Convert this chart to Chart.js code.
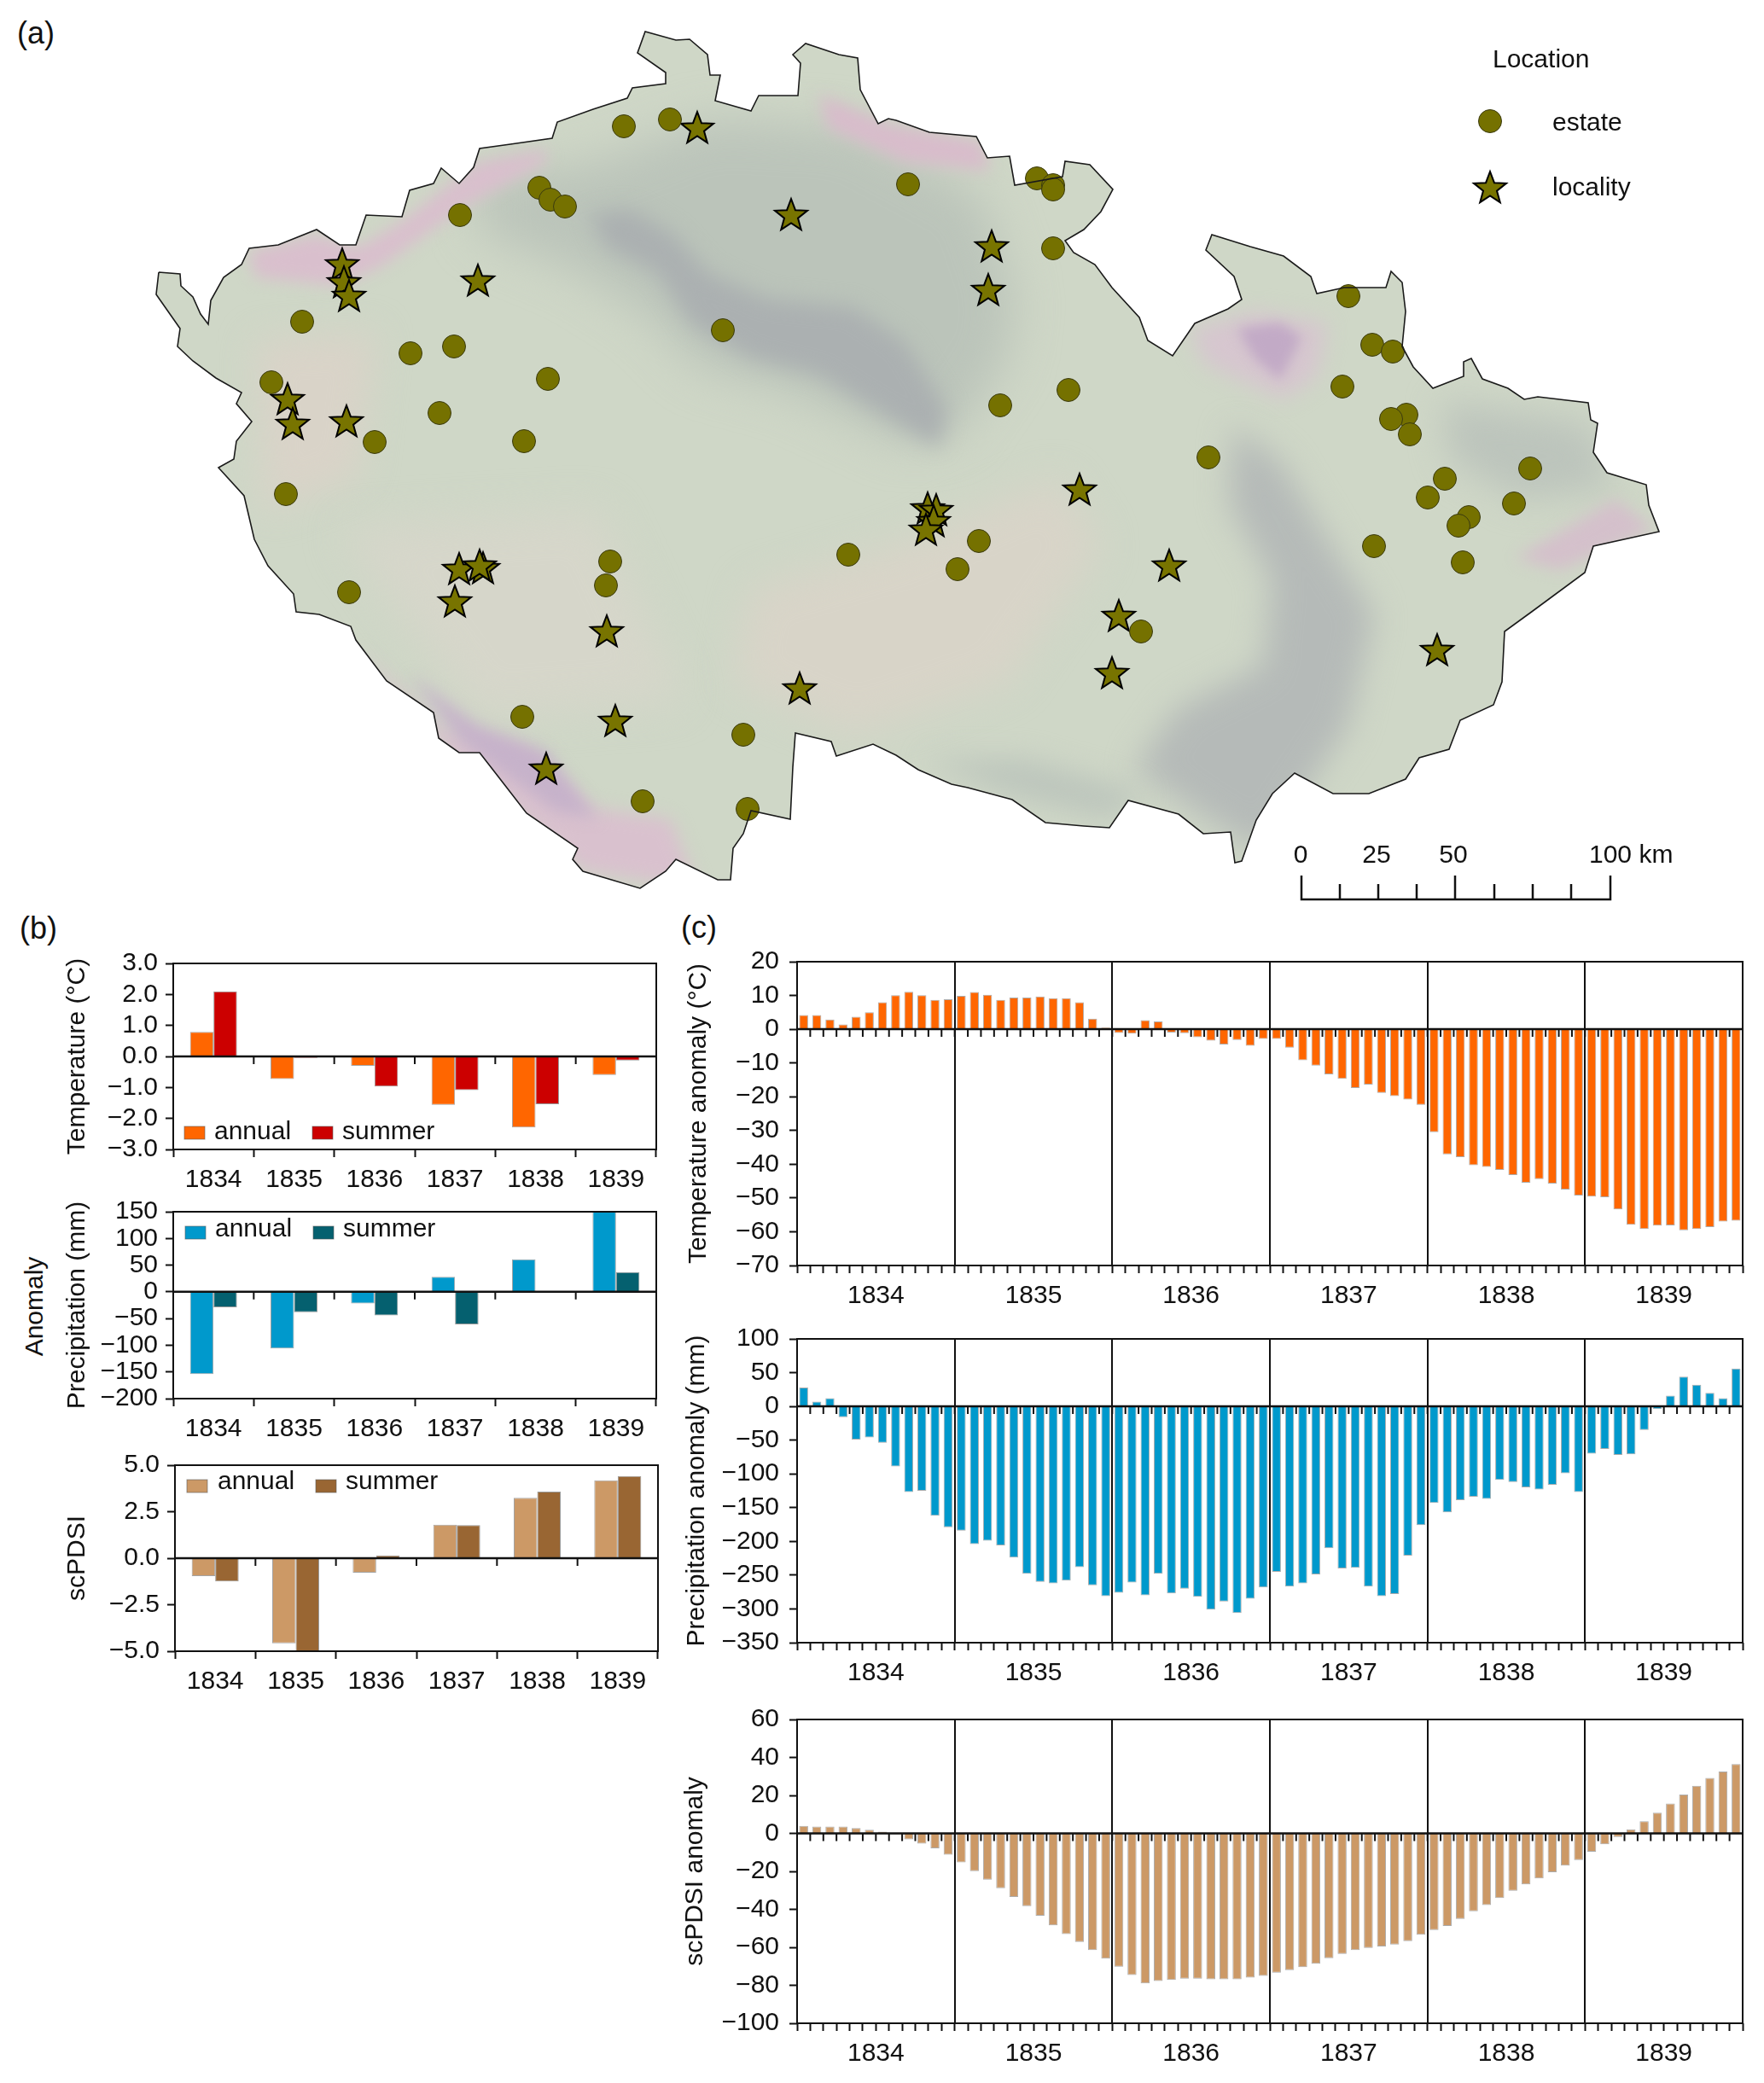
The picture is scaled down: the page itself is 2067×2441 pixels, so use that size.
<!DOCTYPE html>
<html><head><meta charset="utf-8">
<style>
html,body{margin:0;padding:0;background:#fff;width:2067px;height:2441px;overflow:hidden}
canvas{position:absolute;display:block}
.t{position:absolute;font-family:"Liberation Sans",Arial,sans-serif;color:#111;white-space:nowrap;line-height:1}
</style>
<script src="https://cdn.jsdelivr.net/npm/chart.js@4"></script>
</head><body>
<div class="t" style="left:20px;top:21px;font-size:36px">(a)</div>
<div class="t" style="left:23px;top:1070px;font-size:36px">(b)</div>
<div class="t" style="left:798px;top:1069px;font-size:36px">(c)</div>
<div class="t" style="left:40px;top:1531px;font-size:30px;transform:translate(-50%,-50%) rotate(-90deg)">Anomaly</div>
<script>
const years = ['1834','1835','1836','1837','1838','1839'];
const seriesLabels = ['annual','summer'];

const tempAnnual = [0.79,-0.73,-0.30,-1.56,-2.29,-0.60];
const tempSummer = [2.10,-0.05,-0.97,-1.09,-1.54,-0.13];
const precAnnual = [-154,-106,-22,28,61,150];
const precSummer = [-29,-38,-44,-61,0,37];
const pdsiAnnual = [-0.96,-4.57,-0.78,1.80,3.25,4.19];
const pdsiSummer = [-1.25,-5.00,0.15,1.78,3.58,4.42];

const tempMonthly = [
 4.2,4.2,2.9,1.4,3.7,5.0,8.0,10.1,11.1,10.1,8.7,8.9,
 9.9,11.0,10.2,8.7,9.4,9.4,9.7,9.2,9.2,8.0,3.1,0.5,
 -1.1,-1.3,2.7,2.3,-1.0,-1.2,-2.4,-3.4,-4.5,-3.2,-4.9,-2.9,
 -2.9,-5.5,-9.2,-10.8,-13.4,-14.7,-17.4,-16.4,-18.9,-19.8,-20.8,-22.4,
 -30.5,-37.1,-37.9,-40.3,-40.8,-41.7,-43.2,-45.5,-44.4,-45.7,-47.5,-49.3,
 -49.6,-49.8,-53.4,-57.9,-59.2,-58.2,-58.1,-59.6,-59.2,-58.6,-57.0,-56.7];
const precMonthly = [
 28,7,12,-16,-49,-46,-54,-89,-127,-125,-162,-179,
 -184,-204,-199,-206,-224,-248,-260,-262,-258,-238,-265,-281,
 -276,-261,-280,-248,-277,-270,-282,-301,-289,-306,-285,-268,
 -245,-267,-262,-249,-210,-240,-239,-267,-281,-278,-221,-176,
 -143,-157,-139,-134,-137,-109,-112,-120,-123,-116,-99,-127,
 -70,-63,-72,-71,-35,-4,16,44,32,20,12,56];
const pdsiMonthly = [
 3.9,3.6,3.6,3.6,2.8,1.9,0.9,-0.5,-3.1,-5.4,-7.9,-11.2,
 -15.3,-19.9,-24.4,-28.9,-33.5,-38.3,-43.4,-48.4,-53.0,-57.2,-61.5,-65.9,
 -70.2,-74.6,-79.0,-77.7,-77.2,-76.5,-76.5,-76.8,-76.8,-76.8,-76.0,-75.0,
 -73.4,-72.0,-70.5,-68.6,-65.7,-63.5,-61.5,-60.3,-59.6,-58.5,-56.7,-53.4,
 -50.9,-48.8,-45.0,-41.0,-37.7,-34.0,-30.2,-26.9,-23.7,-20.5,-17.0,-14.1,
 -9.7,-5.7,-1.9,2.1,6.4,10.9,15.7,20.5,25.1,29.2,32.6,36.5];
const monthCategories = years.flatMap(y => ['01','02','03','04','05','06','07','08','09','10','11','12'].map(m => y + '-' + m));

// map, in the map's own grid units
const borderPath = [[186,319],[211,321],[212,335],[226,348],[235,368],[244,380],[247,352],[262,325],[283,310],[292,291],[326,287],[371,269],[398,287],[417,287],[429,252],[471,254],[480,223],[508,215],[517,197],[538,215],[555,196],[562,174],[598,169],[647,162],[653,143],[695,128],[735,115],[741,103],[780,98],[780,85],[747,62],[756,37],[792,47],[808,46],[829,64],[832,88],[844,88],[838,118],[880,130],[889,112],[935,112],[938,74],[929,64],[944,51],[983,64],[1005,68],[1008,105],[1029,145],[1041,139],[1050,141],[1089,155],[1144,160],[1157,185],[1183,183],[1189,217],[1245,207],[1248,189],[1277,193],[1304,222],[1290,248],[1270,269],[1248,282],[1258,296],[1283,310],[1303,337],[1335,372],[1345,399],[1374,417],[1400,379],[1439,362],[1455,351],[1446,324],[1413,293],[1420,275],[1465,289],[1504,300],[1536,324],[1543,344],[1575,337],[1624,337],[1630,318],[1643,331],[1647,365],[1643,406],[1656,430],[1679,455],[1715,441],[1715,424],[1724,420],[1737,444],[1767,455],[1786,468],[1802,465],[1861,472],[1864,492],[1872,496],[1867,530],[1883,554],[1929,568],[1932,592],[1944,623],[1867,640],[1857,671],[1796,716],[1763,740],[1760,799],[1750,826],[1711,844],[1698,878],[1663,888],[1647,913],[1604,930],[1562,930],[1517,906],[1491,930],[1472,961],[1455,1009],[1447,1011],[1442,975],[1410,977],[1381,954],[1322,938],[1300,970],[1270,968],[1225,964],[1186,937],[1134,923],[1115,919],[1076,902],[1050,885],[1023,872],[980,886],[974,869],[932,859],[929,899],[926,960],[880,950],[871,977],[859,994],[856,1031],[841,1031],[792,1007],[780,1021],[750,1041],[683,1021],[671,1007],[677,994],[617,953],[583,909],[562,882],[538,882],[514,865],[508,835],[453,798],[417,750],[411,734],[374,720],[347,717],[344,696],[314,663],[298,632],[286,581],[256,548],[274,538],[277,517],[295,494],[277,473],[283,460],[253,443],[226,423],[208,406],[211,385],[183,345],[186,319]];
const reliefZones = [
 {c:'#d8d4c8',b:22,p:[[880,690],[1050,640],[1240,560],[1290,640],[1180,800],[1000,860],[860,800]]},
 {c:'#d9d3c8',b:20,p:[[300,400],[440,390],[420,560],[310,600]]},
 {c:'#d6d6ca',b:24,p:[[400,620],[700,600],[800,820],[560,840]]},
 {c:'#bbc4ba',b:26,p:[[560,210],[700,190],[830,140],[1000,150],[1150,230],[1190,350],[1180,420],[1120,510],[1060,520],[930,460],[820,430],[760,370],[680,320],[560,270]]},
 {c:'#abb0b1',b:12,p:[[690,250],[740,245],[790,275],[830,320],[900,350],[1000,360],[1060,400],[1110,480],[1100,525],[1050,495],[960,440],[880,420],[810,380],[770,320],[710,290]]},
 {c:'#b5bab8',b:18,p:[[1445,500],[1500,540],[1560,640],[1610,720],[1580,850],[1480,1000],[1400,950],[1330,900],[1380,830],[1480,780],[1490,680],[1440,590]]},
 {c:'#bcc4bc',b:20,p:[[1690,470],[1861,496],[1893,572],[1783,585],[1700,540]]},
 {c:'#bcc5bc',b:16,p:[[1080,890],[1200,890],[1342,930],[1300,960],[1180,930]]},
 {c:'#d9bfcd',b:9,p:[[290,295],[370,275],[420,290],[470,260],[560,190],[640,175],[640,190],[540,245],[450,310],[400,335],[300,325]]},
 {c:'#d9c1ce',b:10,p:[[417,757],[514,852],[610,879],[695,947],[786,960],[817,1041],[683,1021],[514,872],[453,805]]},
 {c:'#c6b2ca',b:9,p:[[480,790],[560,850],[640,880],[700,960],[650,950],[540,870]]},
 {c:'#d8bccb',b:9,p:[[960,110],[1040,145],[1150,165],[1160,200],[1060,190],[970,150]]},
 {c:'#d6c6cf',b:12,p:[[1394,386],[1471,365],[1556,379],[1543,441],[1504,468],[1413,427]]},
 {c:'#c2aac6',b:7,p:[[1450,385],[1500,378],[1525,395],[1500,445],[1470,420]]},
 {c:'#d4c0cb',b:9,p:[[1776,654],[1893,585],[1938,620],[1828,668]]}
];
const estates = [[731,148],[785,140],[632,220],[645,234],[662,242],[539,252],[354,377],[481,414],[532,406],[642,444],[318,448],[515,484],[439,518],[614,517],[335,579],[715,658],[710,686],[409,694],[994,650],[847,387],[1064,216],[612,840],[871,861],[753,939],[876,948],[1215,209],[1234,217],[1234,222],[1234,291],[1252,457],[1172,475],[1147,634],[1122,667],[1416,536],[1337,740],[1580,347],[1608,404],[1632,412],[1573,453],[1648,486],[1630,491],[1652,509],[1693,561],[1673,583],[1793,549],[1774,590],[1721,606],[1709,616],[1610,640],[1714,659]];
const localities = [[817,150],[927,252],[401,310],[403,331],[409,347],[560,329],[337,468],[343,497],[406,494],[538,667],[566,666],[562,663],[533,705],[711,740],[937,807],[721,845],[640,901],[1162,289],[1158,340],[1265,574],[1087,596],[1097,598],[1094,611],[1085,621],[1370,663],[1311,722],[1303,789],[1684,762]];
const legendEstate = [[1746,142]];
const legendLocality = [[1746,220]];
const scaleBarTicks = [[1525,1026],[1570,1036],[1615,1036],[1660,1036],[1705,1026],[1751,1036],[1796,1036],[1841,1036],[1887,1026]];
const scaleBarBase = 1054;
const mapTexts = [
 {s:'Location',x:1749,y:71},{s:'estate',x:1819,y:145},{s:'locality',x:1819,y:221},
 {s:'0',x:1524,y:1003,a:'center'},{s:'25',x:1613,y:1003,a:'center'},{s:'50',x:1703,y:1003,a:'center'},{s:'100 km',x:1862,y:1003}
];

const FONT = '"Liberation Sans", Arial, sans-serif';
const INK = '#111111';
Chart.defaults.font.family = FONT;
Chart.defaults.font.size = 30;
Chart.defaults.color = INK;
Chart.defaults.animation = false;
Chart.defaults.layout.autoPadding = false;

const minus = s => String(s).replace('-', '\u2212');

const framePlugin = {
  id: 'frame',
  beforeDatasetsDraw(chart) {
    const {ctx, chartArea: a, scales: {x, y}} = chart;
    const n = x.getLabels().length, y0 = y.getPixelForValue(0);
    ctx.save();
    ctx.strokeStyle = INK; ctx.lineWidth = 2;
    ctx.beginPath();
    for (let i = 1; i < n; i++) {
      const px = a.left + i * (a.right - a.left) / n;
      ctx.moveTo(px, y0); ctx.lineTo(px, y0 + 9);
    }
    ctx.stroke();
    ctx.restore();
  },
  afterDatasetsDraw(chart) {
    const {ctx, chartArea: a, scales: {y}} = chart;
    const y0 = y.getPixelForValue(0);
    ctx.save();
    ctx.strokeStyle = INK; ctx.lineWidth = 2;
    ctx.strokeRect(a.left, a.top, a.right - a.left, a.bottom - a.top);
    ctx.lineWidth = 2.5;
    ctx.beginPath(); ctx.moveTo(a.left, y0); ctx.lineTo(a.right, y0); ctx.stroke();
    ctx.restore();
  }
};

const swatchPlugin = {
  id: 'swatches',
  afterDatasetsDraw(chart, _args, opts) {
    if (!opts.items) return;
    const {ctx, chartArea: a} = chart;
    ctx.save();
    ctx.font = '30px ' + FONT; ctx.textBaseline = 'middle'; ctx.textAlign = 'left';
    opts.items.forEach((it, i) => {
      const ds = chart.data.datasets[i];
      ctx.fillStyle = ds.backgroundColor;
      ctx.fillRect(a.left + it.sx, a.top + opts.dy - 7, 24, 15);
      ctx.strokeStyle = 'rgba(90,90,90,.6)'; ctx.lineWidth = 1;
      ctx.strokeRect(a.left + it.sx, a.top + opts.dy - 7, 24, 15);
      ctx.fillStyle = INK;
      ctx.fillText(ds.label, a.left + it.tx, a.top + opts.textDy);
    });
    ctx.restore();
  }
};

function place(box) {
  const PAD_T = 40, PAD_R = 24;
  const c = document.createElement('canvas');
  c.width = box.yw + box.w + PAD_R;
  c.height = PAD_T + box.h + box.xh;
  c.style.left = (box.left - box.yw) + 'px';
  c.style.top = (box.top - PAD_T) + 'px';
  c.style.width = c.width + 'px'; c.style.height = c.height + 'px';
  document.body.appendChild(c);
  return {c, padding: {top: PAD_T, right: PAD_R, left: 0, bottom: 0}};
}

function yAxis(box, o) {
  return {
    min: o.min, max: o.max,
    afterFit: s => { s.width = box.yw; },
    border: {display: false},
    grid: {drawOnChartArea: false, drawTicks: true, tickLength: 9, tickColor: INK, tickWidth: 2},
    ticks: {stepSize: o.step, autoSkip: false, padding: o.pad, font: {size: 30}, color: INK,
      callback: v => minus(o.dec ? Number(v).toFixed(o.dec) : v)},
    title: {display: true, text: o.title, font: {size: 30}, color: INK}
  };
}

function annualChart(box, axis, a, b, colA, colB, items) {
  const {c, padding} = place(box);
  new Chart(c, {
    type: 'bar',
    data: {labels: years, datasets: [
      {label: seriesLabels[0], data: a, backgroundColor: colA, borderColor: 'rgba(90,90,90,.55)', borderWidth: 1},
      {label: seriesLabels[1], data: b, backgroundColor: colB, borderColor: 'rgba(70,70,70,.55)', borderWidth: 1}
    ]},
    options: {
      responsive: false, maintainAspectRatio: false, devicePixelRatio: 1,
      layout: {padding, autoPadding: false},
      datasets: {bar: {categoryPercentage: 0.583, barPercentage: 1}},
      plugins: {legend: {display: false}, tooltip: {enabled: false}, swatches: items},
      scales: {
        x: {
          afterFit: s => { s.height = box.xh; },
          border: {display: false},
          grid: {offset: true, drawOnChartArea: false, drawTicks: true, tickLength: 9, tickColor: INK, tickWidth: 2},
          ticks: {padding: 9, maxRotation: 0, autoSkip: false, font: {size: 30}, color: INK}
        },
        y: yAxis(box, axis)
      }
    },
    plugins: [framePlugin, swatchPlugin]
  });
}

function monthlyChart(box, axis, values, col) {
  const {c, padding} = place(box);
  new Chart(c, {
    type: 'bar',
    data: {labels: monthCategories, datasets: [
      {label: axis.title, data: values, backgroundColor: col, borderColor: 'rgba(90,90,90,.5)', borderWidth: 1}
    ]},
    options: {
      responsive: false, maintainAspectRatio: false, devicePixelRatio: 1,
      layout: {padding, autoPadding: false},
      datasets: {bar: {categoryPercentage: 1, barPercentage: 0.68}},
      plugins: {legend: {display: false}, tooltip: {enabled: false}},
      scales: {
        x: {
          weight: 0,
          afterFit: s => { s.height = 9; },
          border: {display: false},
          grid: {offset: true, drawOnChartArea: false, drawTicks: true, tickLength: 9, tickColor: INK, tickWidth: 2},
          ticks: {display: false, autoSkip: false}
        },
        yr: {
          type: 'category', axis: 'x', position: 'bottom', weight: 1, labels: years,
          afterFit: s => { s.height = box.xh - 9; },
          border: {display: false},
          grid: {offset: true, drawOnChartArea: true, drawTicks: false, color: INK, lineWidth: 2},
          ticks: {padding: 9, maxRotation: 0, autoSkip: false, font: {size: 30}, color: INK}
        },
        y: yAxis(box, axis)
      }
    },
    plugins: [framePlugin]
  });
}

const ORANGE = '#ff6600', RED = '#cc0000', BLUE = '#0099cc', TEAL = '#05606f', TAN = '#cc9966', BROWN = '#996633';

annualChart({left:203,top:1129,w:566,h:218,yw:134,xh:56},
  {min:-3,max:3,step:1,dec:1,pad:9,title:'Temperature (\u00b0C)'}, tempAnnual, tempSummer, ORANGE, RED,
  {dy:198,textDy:198,items:[{sx:13,tx:48},{sx:163,tx:198}]});
annualChart({left:203,top:1420,w:566,h:219,yw:134,xh:56},
  {min:-200,max:150,step:50,pad:9,title:'Precipitation (mm)'}, precAnnual, precSummer, BLUE, TEAL,
  {dy:24,textDy:21,items:[{sx:14,tx:49},{sx:164,tx:199}]});
annualChart({left:205,top:1717,w:566,h:218,yw:136,xh:56},
  {min:-5,max:5,step:2.5,dec:1,pad:9,title:'scPDSI'}, pdsiAnnual, pdsiSummer, TAN, BROWN,
  {dy:24,textDy:20,items:[{sx:14,tx:50},{sx:165,tx:200}]});

monthlyChart({left:934,top:1127,w:1108,h:356,yw:137,xh:56},
  {min:-70,max:20,step:10,pad:12,title:'Temperature anomaly (\u00b0C)'}, tempMonthly, ORANGE);
monthlyChart({left:934,top:1569,w:1108,h:356,yw:139,xh:56},
  {min:-350,max:100,step:50,pad:12,title:'Precipitation anomaly (mm)'}, precMonthly, BLUE);
monthlyChart({left:934,top:2015,w:1108,h:356,yw:141,xh:56},
  {min:-100,max:60,step:20,pad:12,title:'scPDSI anomaly'}, pdsiMonthly, TAN);

// map
function starSprite() {
  const s = document.createElement('canvas'); s.width = 44; s.height = 44;
  const g = s.getContext('2d'), R = 20, r = 8.4;
  g.translate(22, 23); g.beginPath();
  for (let i = 0; i < 10; i++) {
    const rad = i % 2 ? r : R, t = -Math.PI / 2 + i * Math.PI / 5;
    g[i ? 'lineTo' : 'moveTo'](rad * Math.cos(t), rad * Math.sin(t));
  }
  g.closePath(); g.fillStyle = '#787400'; g.fill();
  g.strokeStyle = '#000'; g.lineWidth = 2; g.lineJoin = 'miter'; g.stroke();
  return s;
}
const toXY = a => a.map(p => ({x: p[0], y: p[1]}));
const star = starSprite();

const reliefPlugin = {
  id: 'relief',
  beforeDatasetsDraw(chart) {
    const {ctx, scales: {x, y}} = chart;
    const trace = pts => {
      ctx.beginPath();
      pts.forEach((p, i) => ctx[i ? 'lineTo' : 'moveTo'](x.getPixelForValue(p[0]), y.getPixelForValue(p[1])));
      ctx.closePath();
    };
    ctx.save();
    trace(borderPath); ctx.fillStyle = '#cfd7c7'; ctx.fill(); ctx.clip();
    reliefZones.forEach(z => {
      ctx.filter = 'blur(' + z.b + 'px)';
      trace(z.p); ctx.fillStyle = z.c; ctx.fill();
    });
    ctx.filter = 'none';
    ctx.restore();
  },
  afterDatasetsDraw(chart) {
    const {ctx, scales: {x, y}} = chart;
    ctx.save();
    ctx.font = '30px ' + FONT; ctx.fillStyle = INK; ctx.textBaseline = 'middle';
    mapTexts.forEach(t => {
      ctx.textAlign = t.a || 'left';
      ctx.fillText(t.s, x.getPixelForValue(t.x), y.getPixelForValue(t.y));
    });
    ctx.restore();
  }
};

const barPath = scaleBarTicks.flatMap(p => [{x: p[0], y: scaleBarBase}, {x: p[0], y: p[1]}, {x: p[0], y: scaleBarBase}]);
const mapCanvas = document.createElement('canvas');
mapCanvas.width = 2067; mapCanvas.height = 1065;
mapCanvas.style.left = '0px'; mapCanvas.style.top = '0px';
mapCanvas.style.width = '2067px'; mapCanvas.style.height = '1065px';
document.body.appendChild(mapCanvas);

const estateStyle = {pointStyle: 'circle', pointRadius: 13.5, pointBackgroundColor: '#757100', pointBorderColor: '#3a3a10', pointBorderWidth: 1, showLine: false};
const localityStyle = {pointStyle: star, pointRadius: 20, showLine: false};

new Chart(mapCanvas, {
  type: 'scatter',
  data: {datasets: [
    {label: 'border', data: toXY(borderPath), showLine: true, borderColor: '#1a1a1a', borderWidth: 1.6, pointRadius: 0, fill: false, tension: 0},
    {label: 'scale bar', data: barPath, showLine: true, borderColor: '#111', borderWidth: 2.5, pointRadius: 0, fill: false, tension: 0},
    {label: 'estate', data: toXY(estates), ...estateStyle},
    {label: 'locality', data: toXY(localities), ...localityStyle},
    {label: 'legend estate', data: toXY(legendEstate), ...estateStyle},
    {label: 'legend locality', data: toXY(legendLocality), ...localityStyle}
  ]},
  options: {
    responsive: false, maintainAspectRatio: false, devicePixelRatio: 1,
    layout: {padding: 0, autoPadding: false},
    plugins: {legend: {display: false}, tooltip: {enabled: false}},
    scales: {
      x: {type: 'linear', min: 0, max: 2067, display: false},
      y: {type: 'linear', min: 0, max: 1065, reverse: true, display: false}
    }
  },
  plugins: [reliefPlugin]
});
</script>
</body></html>
